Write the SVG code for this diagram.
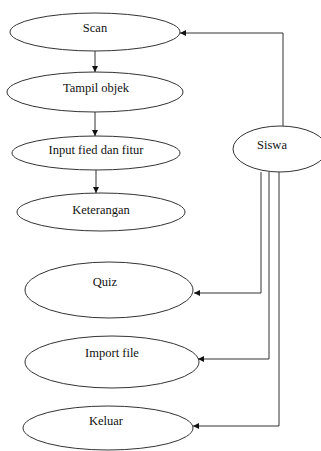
<svg xmlns="http://www.w3.org/2000/svg" width="321" height="451" viewBox="0 0 321 451">
<style>
.n ellipse{fill:#fff;stroke:#333;stroke-width:1}
.n text{font-family:'Liberation Serif','Times New Roman',serif;font-size:12.5px;fill:#111;text-anchor:middle}
.c path{fill:none;stroke:#333;stroke-width:1}
</style>
<defs>
<marker id="a" viewBox="0 0 6 6" refX="6" refY="3" markerWidth="6" markerHeight="6" orient="auto" markerUnits="userSpaceOnUse">
<path d="M0,0 L6,3 L0,6 z" fill="#111"/>
</marker>
</defs>
<rect width="321" height="451" fill="#fff"/>
<g class="n" id="scan"><ellipse cx="95" cy="32" rx="85" ry="19"/><text x="95" y="32">Scan</text></g>
<g class="n" id="tampil"><ellipse cx="95" cy="92" rx="88" ry="20"/><text x="96" y="92">Tampil objek</text></g>
<g class="n" id="input"><ellipse cx="96" cy="153" rx="84" ry="17"/><text x="96" y="154">Input fied dan fitur</text></g>
<g class="n" id="keterangan"><ellipse cx="101" cy="212" rx="84" ry="19"/><text x="101" y="214">Keterangan</text></g>
<g class="n" id="quiz"><ellipse cx="109" cy="290" rx="84" ry="28"/><text x="105" y="286">Quiz</text></g>
<g class="n" id="import"><ellipse cx="112" cy="362" rx="87" ry="26"/><text x="112" y="357">Import file</text></g>
<g class="n" id="keluar"><ellipse cx="108" cy="428" rx="85" ry="22"/><text x="106" y="425">Keluar</text></g>
<g class="n" id="siswa"><ellipse cx="280" cy="149" rx="47" ry="23"/><text x="272" y="149">Siswa</text></g>
<g class="c" id="connectors">
<path d="M95,51 V72" marker-end="url(#a)"/>
<path d="M95,112 V136" marker-end="url(#a)"/>
<path d="M96,170 V193" marker-end="url(#a)"/>
<path d="M283,126 V33 H180" marker-end="url(#a)"/>
<path d="M261,172 V293 H194" marker-end="url(#a)"/>
<path d="M269,172 V359 H198" marker-end="url(#a)"/>
<path d="M279,172 V426 H193" marker-end="url(#a)"/>
</g>
</svg>
